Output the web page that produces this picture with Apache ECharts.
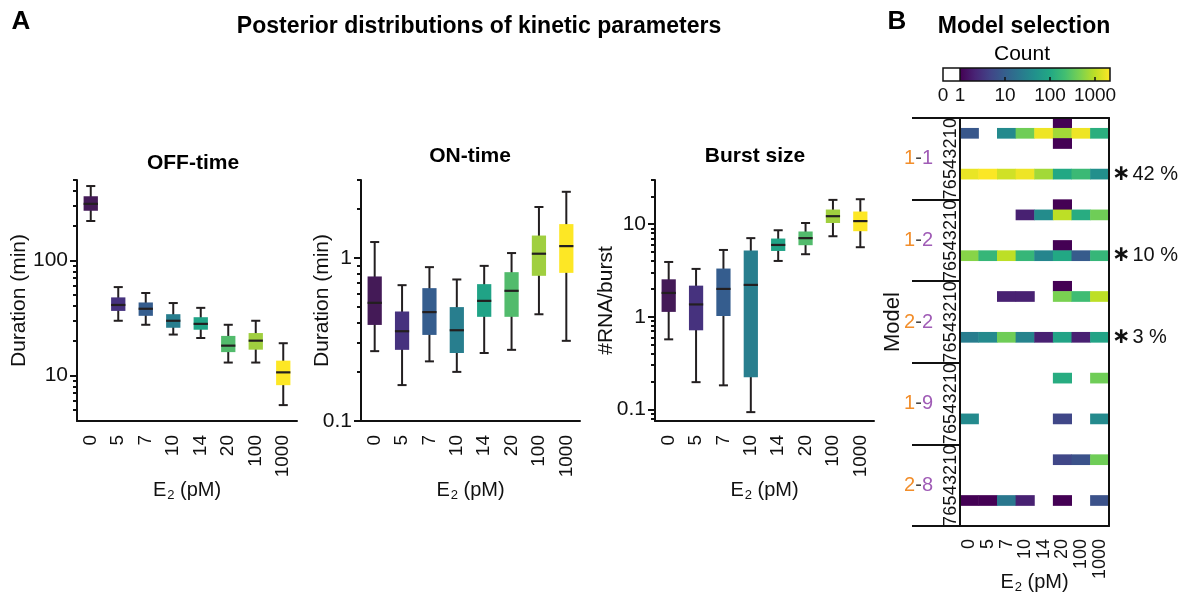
<!DOCTYPE html>
<html>
<head>
<meta charset="utf-8">
<title>Posterior distributions of kinetic parameters</title>
<script src="https://cdn.jsdelivr.net/npm/echarts@6/dist/echarts.min.js"></script>
<style>
  html, body { margin: 0; padding: 0; background: #ffffff; }
  #chart { width: 1183px; height: 592px; }
</style>
</head>
<body>
<div id="chart"></div>
<script>
// ---------- data ----------
const e2Doses = ['0', '5', '7', '10', '14', '20', '100', '1000'];

// box statistics per dose: [lower whisker, Q1, median, Q3, upper whisker]
const offTime = [
  [220, 270, 310, 361, 443],
  [29.8, 36.3, 40.9, 47.6, 58.5],
  [27.5, 32.9, 37.9, 43, 52],
  [22.6, 25.9, 29.8, 34, 42.5],
  [21.1, 24.9, 28, 32, 38.6],
  [12.9, 15.9, 18.1, 22, 27.5],
  [12.9, 16.7, 20, 23.3, 29.8],
  [5.5, 8.2, 10.6, 13.4, 19]
];
const onTime = [
  [0.268, 0.388, 0.53, 0.769, 1.25],
  [0.166, 0.273, 0.355, 0.469, 0.68],
  [0.232, 0.337, 0.465, 0.652, 0.877],
  [0.2, 0.261, 0.36, 0.499, 0.737],
  [0.261, 0.435, 0.545, 0.69, 0.893],
  [0.273, 0.435, 0.628, 0.817, 1.07],
  [0.451, 0.776, 1.06, 1.37, 2.05],
  [0.31, 0.809, 1.18, 1.61, 2.54]
];
const burstSize = [
  [0.571, 1.13, 1.81, 2.54, 3.91],
  [0.197, 0.715, 1.36, 2.17, 3.29],
  [0.182, 1.02, 2.0, 3.32, 5.27],
  [0.0935, 0.223, 2.21, 5.2, 7.07],
  [4.01, 5.14, 5.97, 7.0, 8.6],
  [4.74, 5.93, 7.07, 8.34, 10.3],
  [7.41, 10.3, 12.2, 14.4, 18.3],
  [5.64, 8.4, 10.8, 13.7, 18.6]
];

// axis ranges and ticks
const offRange = [4, 500];
const onRange = [0.1, 3];
const burstRange = [0.075, 30];
const offMajorTicks = [10, 100];
const offMinorTicks = [5, 6, 7, 8, 9, 20, 30, 40, 50, 60, 70, 80, 90, 200, 300, 400, 500];
const onMajorTicks = [0.1, 1];
const onMinorTicks = [0.2, 0.3, 0.4, 0.5, 0.6, 0.7, 0.8, 0.9, 2, 3];
const burstMajorTicks = [0.1, 1, 10];
const burstMinorTicks = [0.08, 0.09, 0.2, 0.3, 0.4, 0.5, 0.6, 0.7, 0.8, 0.9,
                         2, 3, 4, 5, 6, 7, 8, 9, 20, 30];

// model selection counts: [row within model block, counts per dose (null = none)]
const models = ['1-1', '1-2', '2-2', '1-9', '2-8'];
const rowLabels = ['0', '1', '2', '3', '4', '5', '6', '7'];
const countsM11 = [
  [0, [null, null, null, null, null, 1, null, null]],
  [1, [8, null, 37, 400, 1800, 730, 1800, 125]],
  [2, [null, null, null, null, null, 1, null, null]],
  [5, [1700, 2100, 1250, 1800, 730, 100, 180, 43]]
];
const countsM12 = [
  [0, [null, null, null, null, null, 1, null, null]],
  [1, [null, null, null, 2, 40, 1000, 115, 400]],
  [4, [null, null, null, null, null, 1, null, null]],
  [5, [540, 160, 1000, 160, 32, 100, 9, 160]]
];
const countsM22 = [
  [0, [null, null, null, null, null, 1, null, null]],
  [1, [null, null, 2, 2, null, 460, 200, 1000]],
  [5, [25, 37, 400, 30, 2, 85, 2, 85]]
];
const countsM19 = [
  [1, [null, null, null, null, null, 115, null, 400]],
  [5, [37, null, null, null, null, 5, null, 37]]
];
const countsM28 = [
  [1, [null, null, null, null, null, 5, 7, 400]],
  [5, [1, 1, 21, 2, null, 1, null, 7]]
];
const modelShares = [42, 10, 3];   // % for the first three models
const shareRow = 5;
const countTicks = [0, 1, 10, 100, 1000];
const countMax = 2150;

// ---------- styling ----------
const FONT = 'Liberation Sans';
const INK = '#111111';
const WHISKER = '#231f20';
const doseColors = ['#441a57', '#46327e', '#355d8e', '#287e8e', '#20a386', '#52bb6c', '#a0cf3f', '#fde725'];
const viridis = ['#440154', '#482475', '#414487', '#355f8d', '#2a788e', '#21918c',
                 '#22a884', '#42be71', '#7ad151', '#bddf26', '#fde725'];
const rowsPerModel = rowLabels.length;

// ---------- derived tables ----------
const toBoxRows = stats => stats.map((s, i) => [i].concat(s));

const modelCounts = [countsM11, countsM12, countsM22, countsM19, countsM28];
const heatData = [];
modelCounts.forEach((rows, mi) => {
  rows.forEach(([r, counts]) => {
    counts.forEach((c, ci) => {
      if (c != null) heatData.push([ci, mi * rowsPerModel + r, Math.log10(c)]);
    });
  });
});
const rowCats = [];
models.forEach(m => rowLabels.forEach(r => rowCats.push(m + ':' + r)));

const logMax = Math.log10(countMax);
const colorbarZeroPos = -0.378;   // where the "0" (white) swatch begins, in decades
const countTickPos = countTicks.map(c => (c === 0 ? colorbarZeroPos : Math.log10(c)));

function sameLog(a, b) { return Math.abs(Math.log10(a) - Math.log10(b)) < 1e-6; }

// ---------- axes ----------
const E2_NAME = '{n|E}{s|2}{n| (pM)}';
const E2_STYLE = {
  rich: {
    n: { fontSize: 20, color: INK, fontFamily: FONT },
    s: { fontSize: 13, color: INK, fontFamily: FONT, padding: [10, 0, 0, 1] }
  }
};

function doseAxis(gridIndex) {
  return {
    type: 'category', gridIndex: gridIndex, data: e2Doses, position: 'bottom',
    axisLine: { lineStyle: { color: INK, width: 2 } },
    axisTick: { alignWithLabel: true, length: 7, lineStyle: { color: INK, width: 2 } },
    axisLabel: { rotate: 90, fontSize: 19, margin: 14, color: INK, interval: 0, fontFamily: FONT },
    splitLine: { show: false },
    name: E2_NAME, nameLocation: 'middle', nameGap: 58, nameMoveOverlap: false, nameTextStyle: E2_STYLE
  };
}

function logAxes(gridIndex, range, major, minor, name, nameGap) {
  return [{
    type: 'log', logBase: 10, gridIndex: gridIndex, min: range[0], max: range[1], position: 'left',
    axisLine: { show: true, lineStyle: { color: INK, width: 2 } },
    axisTick: { show: true, length: 7, lineStyle: { color: INK, width: 2 }, customValues: major },
    axisLabel: {
      fontSize: 21, color: INK, margin: 9, fontFamily: FONT, customValues: major,
      formatter: v => { const m = major.find(t => sameLog(t, v)); return m === undefined ? '' : String(m); }
    },
    splitLine: { show: false },
    name: name, nameLocation: 'middle', nameRotate: 90, nameGap: nameGap, nameMoveOverlap: false,
    nameTextStyle: { fontSize: 21, color: INK, fontFamily: FONT }
  }, {
    type: 'log', logBase: 10, gridIndex: gridIndex, min: range[0], max: range[1], position: 'left',
    axisLine: { show: false },
    axisTick: { show: true, length: 4, lineStyle: { color: INK, width: 2 }, customValues: minor },
    axisLabel: { show: false },
    splitLine: { show: false }
  }];
}

// ---------- renderers ----------
function boxRenderer(params, api) {
  const i = api.value(0);
  const lo = api.coord([i, api.value(1)]);
  const q1 = api.coord([i, api.value(2)]);
  const med = api.coord([i, api.value(3)]);
  const q3 = api.coord([i, api.value(4)]);
  const hi = api.coord([i, api.value(5)]);
  const band = Math.abs(api.coord([1, api.value(3)])[0] - api.coord([0, api.value(3)])[0]);
  const x = med[0];
  const boxW = band * 0.52;
  const capW = band * 0.33;
  const stroke = { stroke: WHISKER, lineWidth: 2 };
  return {
    type: 'group',
    children: [
      { type: 'line', shape: { x1: x, y1: hi[1], x2: x, y2: lo[1] }, style: stroke },
      { type: 'line', shape: { x1: x - capW / 2, y1: hi[1], x2: x + capW / 2, y2: hi[1] }, style: stroke },
      { type: 'line', shape: { x1: x - capW / 2, y1: lo[1], x2: x + capW / 2, y2: lo[1] }, style: stroke },
      { type: 'rect', shape: { x: x - boxW / 2, y: q3[1], width: boxW, height: q1[1] - q3[1] },
        style: { fill: doseColors[params.dataIndex] } },
      { type: 'line', shape: { x1: x - boxW / 2, y1: med[1], x2: x + boxW / 2, y2: med[1] },
        style: { stroke: WHISKER, lineWidth: 2.2 } }
    ]
  };
}

function colorbarRenderer(params, api) {
  const xz = api.coord([api.value(0), 0])[0];
  const x1 = api.coord([api.value(1), 0])[0];
  const x2 = api.coord([api.value(2), 0])[0];
  const yb = api.coord([0, 0])[1];
  const yt = api.coord([0, 1])[1];
  const stops = viridis.map((c, k) => ({ offset: k / (viridis.length - 1), color: c }));
  return {
    type: 'group',
    children: [
      { type: 'rect', shape: { x: xz, y: yt, width: x1 - xz, height: yb - yt }, style: { fill: '#ffffff' } },
      { type: 'rect', shape: { x: x1, y: yt, width: x2 - x1, height: yb - yt },
        style: { fill: { type: 'linear', x: 0, y: 0, x2: 1, y2: 0, colorStops: stops } } },
      { type: 'line', shape: { x1: x1, y1: yt, x2: x1, y2: yb }, style: { stroke: INK, lineWidth: 1.5 } },
      { type: 'rect', shape: { x: xz, y: yt, width: x2 - xz, height: yb - yt },
        style: { fill: null, stroke: INK, lineWidth: 1.5 } }
    ]
  };
}

// ---------- titles ----------
function label(text, x, y, size, bold) {
  return {
    type: 'text', x: x, y: y, z: 100,
    style: { text: text, fontSize: size, fontWeight: bold ? 'bold' : 'normal', fontFamily: FONT,
             fill: '#000', align: 'center', verticalAlign: 'middle' }
  };
}

const option = {
  animation: false,
  backgroundColor: '#ffffff',
  textStyle: { fontFamily: FONT },
  graphic: [
    label('A', 21, 22, 26, true),
    label('Posterior distributions of kinetic parameters', 479, 27, 23, true),
    label('OFF-time', 193, 163, 21, true),
    label('ON-time', 470, 156, 21, true),
    label('Burst size', 755, 156, 21, true),
    label('B', 897, 22, 26, true),
    label('Model selection', 1024, 27, 23, true),
    label('Count', 1022, 54, 21, false)
  ],
  grid: [
    { left: 77, top: 180, width: 220, height: 241, outerBoundsMode: 'none' },
    { left: 361, top: 180, width: 219, height: 241, outerBoundsMode: 'none' },
    { left: 655, top: 180, width: 219, height: 241, outerBoundsMode: 'none' },
    { left: 960, top: 118, width: 149, height: 408, outerBoundsMode: 'none' },
    { left: 943, top: 68, width: 167, height: 13, outerBoundsMode: 'none' }
  ],
  xAxis: [
    doseAxis(0),
    doseAxis(1),
    doseAxis(2),
    {
      type: 'category', gridIndex: 3, data: e2Doses, position: 'bottom', z: 10,
      axisLine: { lineStyle: { color: INK, width: 2 } },
      axisTick: { alignWithLabel: true, length: 9, lineStyle: { color: INK, width: 2 } },
      axisLabel: { rotate: 90, fontSize: 18, margin: 13, color: INK, interval: 0, fontFamily: FONT },
      splitLine: { show: false },
      name: E2_NAME, nameLocation: 'middle', nameGap: 45, nameMoveOverlap: false, nameTextStyle: E2_STYLE
    },
    {
      type: 'category', gridIndex: 3, data: e2Doses, position: 'top', z: 10,
      axisLine: { lineStyle: { color: INK, width: 2 } },
      axisTick: { show: false }, axisLabel: { show: false }, splitLine: { show: false }
    },
    {
      type: 'value', gridIndex: 4, min: colorbarZeroPos, max: logMax, position: 'bottom', z: 10,
      axisLine: { show: false },
      axisTick: { show: true, inside: true, length: 4, customValues: [1, 2, 3],
                  lineStyle: { color: INK, width: 1.5 } },
      axisLabel: {
        fontSize: 19, margin: 5, color: INK, fontFamily: FONT, customValues: countTickPos,
        formatter: v => {
          const k = countTickPos.findIndex(p => Math.abs(p - v) < 1e-6);
          return k < 0 ? '' : String(countTicks[k]);
        }
      },
      splitLine: { show: false }
    }
  ],
  yAxis: [
    ...logAxes(0, offRange, offMajorTicks, offMinorTicks, 'Duration (min)', 47),
    ...logAxes(1, onRange, onMajorTicks, onMinorTicks, 'Duration (min)', 28),
    ...logAxes(2, burstRange, burstMajorTicks, burstMinorTicks, '#RNA/burst', 38),
    {
      type: 'category', gridIndex: 3, data: rowCats, inverse: true, position: 'left', z: 10,
      axisLine: { show: true, lineStyle: { color: INK, width: 2 } },
      axisTick: { show: false },
      axisLabel: { rotate: 90, fontSize: 18, margin: 0, color: INK, interval: 0, fontFamily: FONT,
                   formatter: (v, i) => rowLabels[i % rowsPerModel] },
      splitLine: { show: false }
    },
    {
      type: 'category', gridIndex: 3, data: models, inverse: true, position: 'left',
      axisLine: { show: false },
      axisTick: { show: true, length: 48, lineStyle: { color: INK, width: 2 } },
      axisLabel: {
        margin: 27, interval: 0, fontSize: 20, fontFamily: FONT,
        formatter: v => { const p = v.split('-'); return '{o|' + p[0] + '}{d|-}{p|' + p[1] + '}'; },
        rich: {
          o: { color: '#f28e2b', fontSize: 20, fontFamily: FONT },
          d: { color: '#444444', fontSize: 20, fontFamily: FONT },
          p: { color: '#a05cb6', fontSize: 20, fontFamily: FONT }
        }
      },
      splitLine: { show: false },
      name: 'Model', nameLocation: 'middle', nameRotate: 90, nameGap: 56, nameMoveOverlap: false,
      nameTextStyle: { fontSize: 22, color: INK, fontFamily: FONT }
    },
    {
      type: 'category', gridIndex: 3, data: rowCats, inverse: true, position: 'right', z: 10,
      axisLine: { show: true, lineStyle: { color: INK, width: 2 } },
      axisTick: { show: false },
      axisLabel: {
        interval: 0, margin: 3, fontFamily: FONT,
        formatter: (v, i) => {
          const m = Math.floor(i / rowsPerModel);
          return (i % rowsPerModel === shareRow && m < modelShares.length)
            ? '{st|\u2217}{t|' + modelShares[m] + ' %}' : '';
        },
        rich: {
          st: { fontSize: 22, fontWeight: 'bold', color: INK, fontFamily: 'DejaVu Sans', padding: [0, 2, 0, 0] },
          t: { fontSize: 20, color: INK, fontFamily: FONT }
        }
      },
      splitLine: { show: false }
    },
    { type: 'value', gridIndex: 4, min: 0, max: 1, show: false }
  ],
  visualMap: [{
    type: 'continuous', show: false, seriesIndex: 3, dimension: 2,
    min: 0, max: logMax, inRange: { color: viridis }
  }],
  series: [
    { type: 'custom', name: 'OFF-time', xAxisIndex: 0, yAxisIndex: 0, renderItem: boxRenderer,
      encode: { x: 0, y: [1, 2, 3, 4, 5] }, data: toBoxRows(offTime), silent: true },
    { type: 'custom', name: 'ON-time', xAxisIndex: 1, yAxisIndex: 2, renderItem: boxRenderer,
      encode: { x: 0, y: [1, 2, 3, 4, 5] }, data: toBoxRows(onTime), silent: true },
    { type: 'custom', name: 'Burst size', xAxisIndex: 2, yAxisIndex: 4, renderItem: boxRenderer,
      encode: { x: 0, y: [1, 2, 3, 4, 5] }, data: toBoxRows(burstSize), silent: true },
    { type: 'heatmap', name: 'Count', xAxisIndex: 3, yAxisIndex: 6, data: heatData, silent: true,
      emphasis: { disabled: true } },
    { type: 'custom', name: 'Count scale', xAxisIndex: 5, yAxisIndex: 9, renderItem: colorbarRenderer,
      data: [[colorbarZeroPos, 0, logMax]], silent: true, z: 1 }
  ]
};

const chart = echarts.init(document.getElementById('chart'), null, { renderer: 'canvas' });
chart.setOption(option);
</script>
</body>
</html>
